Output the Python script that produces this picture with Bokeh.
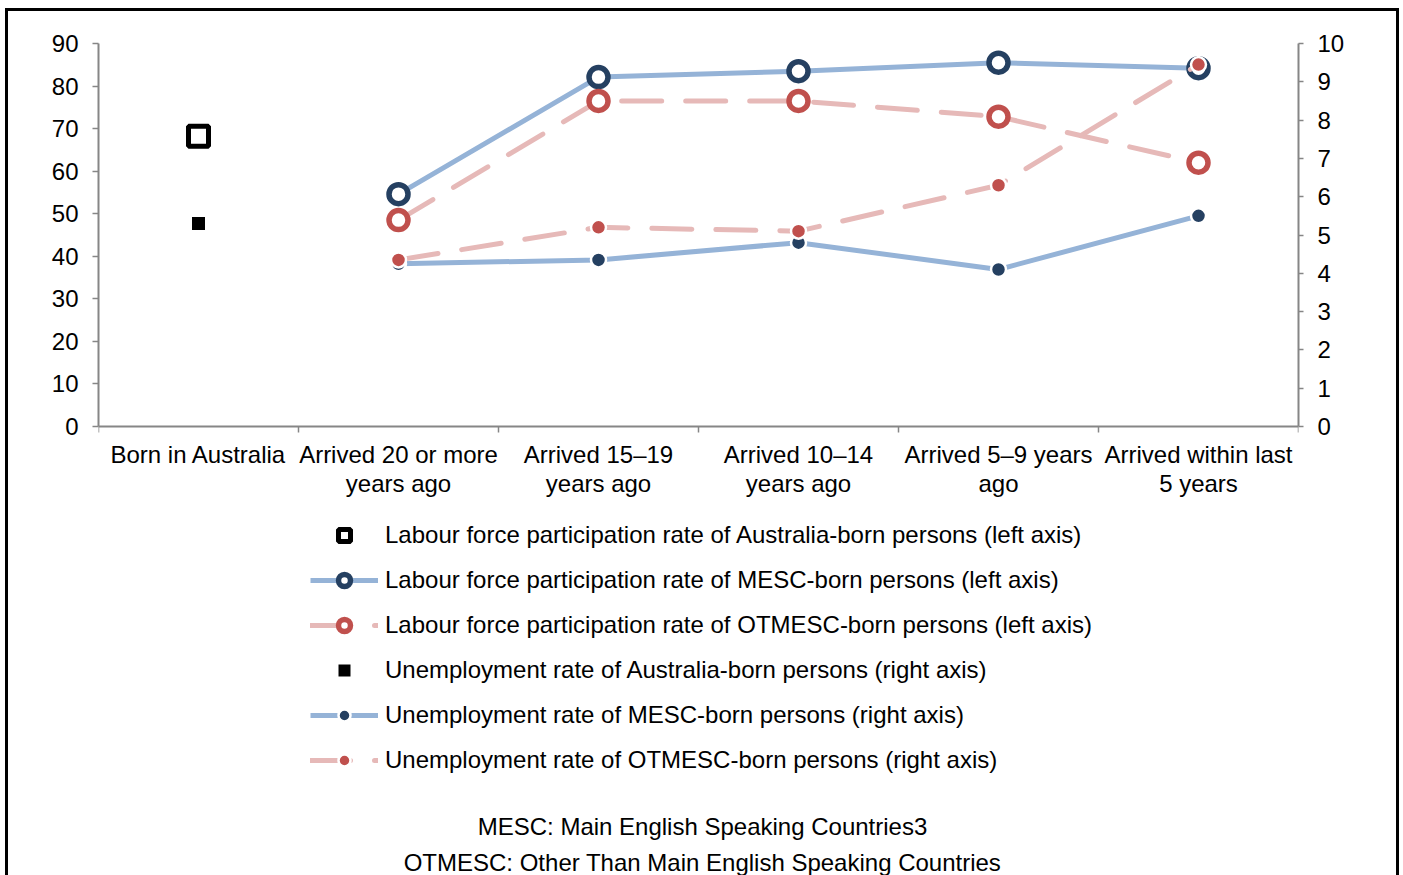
from bokeh.plotting import figure
from bokeh.models import Range1d, LinearAxis, FixedTicker, Legend, LegendItem, Label
from bokeh.embed import file_html
from bokeh.resources import INLINE

# ---------------- data ----------------
categories = ["Born in Australia", "Arrived 20 or more years ago", "Arrived 15–19 years ago",
              "Arrived 10–14 years ago", "Arrived 5–9 years ago", "Arrived within last 5 years"]
tick_labels = ["Born in Australia", "Arrived 20 or more\nyears ago", "Arrived 15–19\nyears ago",
               "Arrived 10–14\nyears ago", "Arrived 5–9 years\nago", "Arrived within last\n5 years"]

lfpr_aus = [68.2]
lfpr_mesc = [54.6, 82.1, 83.5, 85.5, 84.2]
lfpr_otmesc = [48.5, 76.5, 76.5, 72.8, 62.0]
unemp_aus = [5.3]
unemp_mesc = [4.25, 4.35, 4.8, 4.1, 5.5]
unemp_otmesc = [4.35, 5.2, 5.1, 6.3, 9.45]

left_ticks = [0, 10, 20, 30, 40, 50, 60, 70, 80, 90]
right_ticks = [0, 1, 2, 3, 4, 5, 6, 7, 8, 9, 10]

legend_labels = [
    "Labour force participation rate of Australia-born persons (left axis)",
    "Labour force participation rate of MESC-born persons (left axis)",
    "Labour force participation rate of OTMESC-born persons (left axis)",
    "Unemployment rate of Australia-born persons (right axis)",
    "Unemployment rate of MESC-born persons (right axis)",
    "Unemployment rate of OTMESC-born persons (right axis)",
]
notes = ["MESC: Main English Speaking Countries3",
         "OTMESC: Other Than Main English Speaking Countries"]

# ---------------- layout / style ----------------
FONT = "Liberation Sans"
FS = "24px"
GREY = "#868686"
BLUE = "#95B3D7"
NAVY = "#254061"
PINK = "#E6B9B8"
RED = "#C0504D"
DASH = "40 24"

W, H = 1394, 867
TOP, LEFT, RIGHT = 35, 93, 101
PLOT_H = 383                       # pixel height of the 0..90 data area
FRAME_H = H - TOP
L_MAX, R_MAX = left_ticks[-1], right_ticks[-1]
L_MIN = L_MAX - FRAME_H * L_MAX / PLOT_H      # extends below 0 to host legend/notes
R_MIN = R_MAX - FRAME_H * R_MAX / PLOT_H

x_idx = list(range(len(categories)))
x_aus = x_idx[:1]
x_mig = x_idx[1:]

p = figure(width=W, height=H,
           x_range=Range1d(-0.5, len(categories) - 0.5),
           y_range=Range1d(L_MIN, L_MAX),
           output_backend="svg", toolbar_location=None,
           min_border_left=LEFT, min_border_right=RIGHT, min_border_top=TOP, min_border_bottom=0)
p.extra_y_ranges = {"u": Range1d(R_MIN, R_MAX)}
p.xgrid.visible = False
p.ygrid.visible = False
p.outline_line_color = None
p.border_fill_color = None
p.background_fill_color = None
p.styles = {"box-shadow": "inset 3px 3px 0 0 #000000, inset -3px 0 0 0 #000000",
            "margin-left": "5px", "margin-top": "8px"}

# x axis (sits at y = 0 inside the frame)
xa = p.xaxis[0]
xa.fixed_location = 0
xa.ticker = FixedTicker(ticks=x_idx, minor_ticks=[i - 0.5 for i in range(len(categories) + 1)])
xa.major_label_overrides = {i: lab for i, lab in zip(x_idx, tick_labels)}
xa.major_tick_line_color = None
xa.major_tick_out = 6
xa.major_tick_in = 0
xa.minor_tick_line_color = GREY
xa.minor_tick_line_width = 1.5
xa.minor_tick_out = 6
xa.minor_tick_in = 0
xa.axis_line_color = GREY
xa.axis_line_width = 2
xa.major_label_standoff = 8
xa.major_label_text_font = FONT
xa.major_label_text_font_size = FS
xa.major_label_text_color = "black"
xa.major_label_text_line_height = 1.1

# left axis
ya = p.yaxis[0]
ya.bounds = (left_ticks[0], L_MAX)
ya.ticker = FixedTicker(ticks=left_ticks, minor_ticks=[])
ya.axis_line_color = GREY
ya.axis_line_width = 2
ya.major_tick_line_color = GREY
ya.major_tick_line_width = 1.5
ya.major_tick_out = 6
ya.major_tick_in = 0
ya.minor_tick_line_color = None
ya.major_label_standoff = 14
ya.major_label_text_font = FONT
ya.major_label_text_font_size = FS
ya.major_label_text_color = "black"

# right axis
ra = LinearAxis(y_range_name="u", ticker=FixedTicker(ticks=right_ticks, minor_ticks=[]))
ra.bounds = (right_ticks[0], R_MAX)
ra.axis_line_color = GREY
ra.axis_line_width = 2
ra.major_tick_line_color = GREY
ra.major_tick_line_width = 1.5
ra.major_tick_out = 5
ra.major_tick_in = 0
ra.minor_tick_line_color = None
ra.major_label_standoff = 14
ra.major_label_text_font = FONT
ra.major_label_text_font_size = FS
ra.major_label_text_color = "black"
p.add_layout(ra, "right")

# ---------------- glyphs ----------------
r1 = p.scatter(x_aus, lfpr_aus, marker="square", size=20, fill_color="white",
               line_color="black", line_width=5)
r2l = p.line(x_mig, lfpr_mesc, line_color=BLUE, line_width=5)
r2m = p.scatter(x_mig, lfpr_mesc, marker="circle", size=19, fill_color="white",
                line_color=NAVY, line_width=5.5)
r3l = p.line(x_mig, lfpr_otmesc, line_color=PINK, line_width=5, line_dash=DASH, line_cap="round")
r3m = p.scatter(x_mig, lfpr_otmesc, marker="circle", size=19, fill_color="white",
                line_color=RED, line_width=5.5)
r4 = p.scatter(x_aus, unemp_aus, marker="square", size=13, fill_color="black",
               line_color=None, y_range_name="u")
r5l = p.line(x_mig, unemp_mesc, line_color=BLUE, line_width=5, y_range_name="u")
r5m = p.scatter(x_mig, unemp_mesc, marker="circle", size=15, fill_color=NAVY,
                line_color="white", line_width=2.5, y_range_name="u")
r6l = p.line(x_mig, unemp_otmesc, line_color=PINK, line_width=5, line_dash=DASH,
             line_cap="round", y_range_name="u")
r6m = p.scatter(x_mig, unemp_otmesc, marker="circle", size=15, fill_color=RED,
                line_color="white", line_width=2.5, y_range_name="u")

items = [
    LegendItem(label=legend_labels[0], renderers=[r1]),
    LegendItem(label=legend_labels[1], renderers=[r2l, r2m]),
    LegendItem(label=legend_labels[2], renderers=[r3l, r3m]),
    LegendItem(label=legend_labels[3], renderers=[r4]),
    LegendItem(label=legend_labels[4], renderers=[r5l, r5m]),
    LegendItem(label=legend_labels[5], renderers=[r6l, r6m]),
]
legend = Legend(items=items, location=(212, 100), orientation="vertical",
                glyph_width=68, glyph_height=30, label_height=30, spacing=15,
                label_standoff=7, padding=10, margin=0,
                border_line_color=None, background_fill_alpha=0,
                label_text_font=FONT, label_text_font_size=FS, label_text_color="black")
p.add_layout(legend, "center")

note_y = [-94.0, -102.4]
for txt, yy in zip(notes, note_y):
    p.add_layout(Label(x=2.52, y=yy, text=txt, text_align="center", text_baseline="middle",
                       text_font=FONT, text_font_size=FS, text_color="black"))

open("out.html", "w").write(file_html(p, INLINE))
